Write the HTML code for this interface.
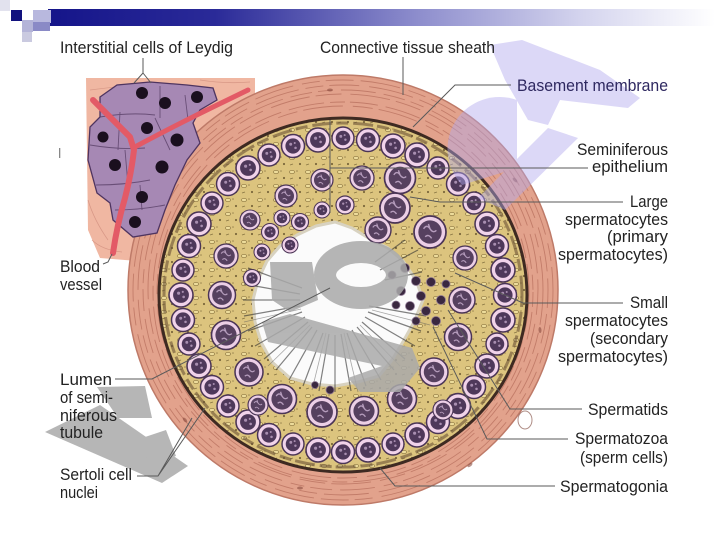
<!DOCTYPE html>
<html><head><meta charset="utf-8"><style>
html,body{margin:0;padding:0;background:#fff;}
svg{display:block;}
text{font-family:"Liberation Sans",sans-serif;font-size:17px;fill:#222;}
</style></head><body>
<svg width="720" height="540" viewBox="0 0 720 540" xmlns="http://www.w3.org/2000/svg">
<defs>
<linearGradient id="bar" x1="48" y1="0" x2="715" y2="0" gradientUnits="userSpaceOnUse">
<stop offset="0" stop-color="#15158a"/><stop offset="0.25" stop-color="#2a2a98"/><stop offset="0.55" stop-color="#8c8ccc"/><stop offset="0.8" stop-color="#d4d4ee"/><stop offset="1" stop-color="#ffffff"/>
</linearGradient>
<pattern id="yel" width="16" height="14" patternUnits="userSpaceOnUse">
<ellipse cx="4" cy="4" rx="2.6" ry="1.6" fill="#f0e0a0" stroke="#8c7640" stroke-width="0.8"/>
<circle cx="12" cy="10" r="1.1" fill="#6a5830"/><circle cx="9" cy="3" r="0.8" fill="#907c48"/><path d="M2 11 l3 -1" stroke="#7a6838" stroke-width="0.9"/>
</pattern>
<g id="c"><circle r="10" fill="#f1d3ea" stroke="#4b3556" stroke-width="1.3"/><circle r="6.6" fill="#4e385a"/><circle cx="-2" cy="-1.5" r="1.3" fill="#a88eb0"/><circle cx="2.2" cy="1.6" r="1.1" fill="#a88eb0"/><circle cx="1.5" cy="-2.6" r="0.9" fill="#a88eb0"/></g>
<g id="L"><circle r="10" fill="#eccfe6" stroke="#4b3556" stroke-width="1.1"/><circle r="7.3" fill="#56405f"/><path d="M-4 -2 q2 -3 4 0 t4 1 M-3 3 q2 -2 4 1 M-1 -5 l1 3" stroke="#b59cbc" stroke-width="0.9" fill="none"/></g>
</defs>

<!-- header -->
<rect x="0" y="0" width="10" height="11" fill="#e2e2ee"/>
<rect x="48" y="9" width="672" height="17" fill="url(#bar)"/>
<rect x="33" y="10" width="18" height="13" fill="#b8b8de"/>
<rect x="33" y="22" width="17" height="9" fill="#8a8ac6"/>
<rect x="11" y="10" width="11" height="11" fill="#12127e"/>
<rect x="22" y="20" width="11" height="12" fill="#b4b4d8"/>
<rect x="22" y="32" width="10" height="10" fill="#cacae0"/>

<!-- interstitial background -->
<polygon points="86,78 255,78 255,100 150,262 100,258 88,230" fill="#f0b7a2"/>
<g stroke="#cf8c7c" stroke-width="0.8" fill="none" opacity="0.7">
<path d="M90 90 q40 -6 80 -4"/><path d="M92 240 q10 10 30 12"/><path d="M88 200 q6 20 20 40"/><path d="M200 80 q25 4 50 2"/>
</g>

<!-- connective tissue sheath -->
<circle cx="343" cy="290" r="215" fill="#e2a28c" stroke="#be7a68" stroke-width="1.5"/>
<g fill="none" stroke="#b8705e" stroke-width="0.9" opacity="0.75">
<circle cx="343" cy="290" r="210" stroke-dasharray="28 7 40 9 18 6"/>
<circle cx="343" cy="290" r="205" stroke-dasharray="18 6 30 10 45 7"/>
<circle cx="343" cy="290" r="200" stroke-dasharray="35 8 22 6 14 9"/>
<circle cx="343" cy="289" r="195" stroke-dasharray="26 9 40 6"/>
<circle cx="343" cy="292" r="190" stroke-dasharray="15 5 28 8 36 6"/>
<circle cx="343" cy="292" r="186" stroke-dasharray="40 10 20 6"/>
</g>
<g fill="#8a4c40" opacity="0.6">
<ellipse cx="205" cy="205" rx="3" ry="1.5" transform="rotate(-45 205 205)"/><ellipse cx="168" cy="300" rx="3" ry="1.5" transform="rotate(-80 168 300)"/>
<ellipse cx="185" cy="420" rx="3" ry="1.5" transform="rotate(50 185 420)"/><ellipse cx="300" cy="488" rx="3" ry="1.5"/>
<ellipse cx="470" cy="465" rx="3" ry="1.5" transform="rotate(-40 470 465)"/><ellipse cx="540" cy="330" rx="3" ry="1.5" transform="rotate(85 540 330)"/>
<ellipse cx="515" cy="180" rx="3" ry="1.5" transform="rotate(45 515 180)"/><ellipse cx="330" cy="90" rx="3" ry="1.5"/>
<ellipse cx="525" cy="420" rx="7" ry="9" fill="none" stroke="#7a4236" stroke-width="1"/>
</g>

<!-- yellow epithelium -->
<ellipse cx="343" cy="295" rx="183" ry="176" fill="#dcc47e"/>
<ellipse cx="343" cy="295" rx="183" ry="176" fill="url(#yel)" opacity="0.85"/>
<ellipse cx="343" cy="295" rx="179" ry="172" fill="none" stroke="#6a5236" stroke-width="3" stroke-dasharray="12 5 20 4" opacity="0.6"/>
<ellipse cx="343" cy="295" rx="184" ry="177" fill="none" stroke="#3e2a22" stroke-width="3"/>

<!-- lumen -->
<polygon points="423,300 414,322 404,340 392,360 379,376 358,382 335,386 312,384 290,378 272,362 261,342 255,322 253,300 258,280 267,261 280,246 297,235 316,226 335,222 352,228 370,239 388,248 403,261 416,280" fill="#fbfbfb" stroke="#d8d2c0" stroke-width="3" stroke-linejoin="round"/>
<g stroke="#303030" stroke-width="1.2" opacity="0.6" fill="none">
<path d="M369 306 L426 316"/><path d="M368 312 L421 331"/><path d="M365 317 L415 346"/><path d="M362 322 L405 359"/><path d="M357 327 L394 370"/><path d="M352 330 L381 380"/><path d="M347 333 L366 386"/><path d="M341 334 L351 391"/><path d="M335 335 L335 392"/><path d="M329 334 L319 391"/><path d="M323 333 L303 386"/><path d="M317 330 L289 380"/><path d="M312 327 L276 370"/><path d="M308 322 L264 359"/><path d="M305 317 L255 346"/><path d="M302 312 L248 331"/><path d="M300 306 L244 316"/><path d="M300 300 L243 300"/><path d="M300 294 L244 284"/><path d="M302 288 L248 268"/>
<path d="M380 270 L418 250"/><path d="M375 262 L405 240"/><path d="M385 280 L422 272"/>
</g>
<g stroke="#555" stroke-width="0.8" opacity="0.5" fill="none">
<path d="M372 310 L430 325"/><path d="M360 325 L400 366"/><path d="M344 333 L358 392"/><path d="M326 333 L312 390"/><path d="M310 325 L268 366"/><path d="M301 309 L244 322"/>
</g>

<!-- cells ring 1 -->
<g>
<use href="#c" transform="translate(505 295) scale(1.15)"/><use href="#c" transform="translate(503 320) scale(1.2)"/><use href="#c" transform="translate(497 344) scale(1.1)"/><use href="#c" transform="translate(487 366) scale(1.2)"/><use href="#c" transform="translate(474 387) scale(1.15)"/><use href="#c" transform="translate(458 406) scale(1.25)"/><use href="#c" transform="translate(438 422) scale(1.15)"/><use href="#c" transform="translate(417 435) scale(1.2)"/><use href="#c" transform="translate(393 444) scale(1.1)"/><use href="#c" transform="translate(368 450) scale(1.2)"/>
<use href="#c" transform="translate(343 452) scale(1.15)"/><use href="#c" transform="translate(318 450) scale(1.2)"/><use href="#c" transform="translate(293 444) scale(1.1)"/><use href="#c" transform="translate(269 435) scale(1.15)"/><use href="#c" transform="translate(248 422) scale(1.2)"/><use href="#c" transform="translate(228 406) scale(1.1)"/><use href="#c" transform="translate(212 387) scale(1.15)"/><use href="#c" transform="translate(199 366) scale(1.2)"/><use href="#c" transform="translate(189 344) scale(1.1)"/><use href="#c" transform="translate(183 320) scale(1.15)"/>
<use href="#c" transform="translate(181 295) scale(1.2)"/><use href="#c" transform="translate(183 270) scale(1.1)"/><use href="#c" transform="translate(189 246) scale(1.15)"/><use href="#c" transform="translate(199 224) scale(1.2)"/><use href="#c" transform="translate(212 203) scale(1.1)"/><use href="#c" transform="translate(228 184) scale(1.15)"/><use href="#c" transform="translate(248 168) scale(1.2)"/><use href="#c" transform="translate(269 155) scale(1.1)"/><use href="#c" transform="translate(293 146) scale(1.15)"/><use href="#c" transform="translate(318 140) scale(1.2)"/>
<use href="#c" transform="translate(343 138) scale(1.1)"/><use href="#c" transform="translate(368 140) scale(1.15)"/><use href="#c" transform="translate(393 146) scale(1.2)"/><use href="#c" transform="translate(417 155) scale(1.2)"/><use href="#c" transform="translate(438 168) scale(1.1)"/><use href="#c" transform="translate(458 184) scale(1.15)"/><use href="#c" transform="translate(474 203) scale(1.1)"/><use href="#c" transform="translate(487 224) scale(1.2)"/><use href="#c" transform="translate(497 246) scale(1.15)"/><use href="#c" transform="translate(503 270) scale(1.2)"/>
</g>
<!-- cells ring 2 (large) -->
<g>
<use href="#L" transform="translate(462 300) scale(1.3)"/><use href="#L" transform="translate(458 337) scale(1.35)"/><use href="#L" transform="translate(434 372) scale(1.4)"/><use href="#L" transform="translate(402 399) scale(1.45)"/><use href="#L" transform="translate(364 411) scale(1.45)"/><use href="#L" transform="translate(322 412) scale(1.5)"/><use href="#L" transform="translate(282 399) scale(1.45)"/><use href="#L" transform="translate(249 372) scale(1.4)"/><use href="#L" transform="translate(226 335) scale(1.45)"/>
<use href="#L" transform="translate(222 295) scale(1.35)"/><use href="#L" transform="translate(226 256) scale(1.2)"/><use href="#L" transform="translate(250 220) scale(1.0)"/><use href="#L" transform="translate(286 196) scale(1.1)"/><use href="#L" transform="translate(322 180) scale(1.1)"/><use href="#L" transform="translate(362 178) scale(1.2)"/><use href="#L" transform="translate(400 178) scale(1.55)"/><use href="#L" transform="translate(430 232) scale(1.6)"/><use href="#L" transform="translate(465 258) scale(1.2)"/>
<use href="#L" transform="translate(395 208) scale(1.5)"/><use href="#L" transform="translate(378 230) scale(1.3)"/><use href="#L" transform="translate(258 405) scale(1.0)"/><use href="#L" transform="translate(443 410) scale(1.0)"/>
<use href="#c" transform="translate(270 232) scale(0.85)"/><use href="#c" transform="translate(290 245) scale(0.8)"/><use href="#c" transform="translate(262 252) scale(0.8)"/><use href="#c" transform="translate(300 222) scale(0.85)"/><use href="#c" transform="translate(282 218) scale(0.8)"/><use href="#c" transform="translate(345 205) scale(0.9)"/><use href="#c" transform="translate(322 210) scale(0.8)"/><use href="#c" transform="translate(252 278) scale(0.85)"/>
</g>
<!-- spermatids -->
<g fill="#3a2840" stroke="#8a7490" stroke-width="0.8">
<circle cx="405" cy="268" r="4.5"/><circle cx="416" cy="281" r="4.5"/><circle cx="401" cy="291" r="4.5"/><circle cx="421" cy="296" r="4.5"/><circle cx="410" cy="306" r="4.5"/><circle cx="426" cy="311" r="4.5"/><circle cx="396" cy="305" r="4"/><circle cx="431" cy="282" r="4.5"/><circle cx="441" cy="300" r="4.5"/><circle cx="436" cy="321" r="4.5"/><circle cx="416" cy="321" r="4"/><circle cx="446" cy="284" r="4"/><circle cx="392" cy="275" r="4"/><circle cx="330" cy="390" r="4"/><circle cx="315" cy="385" r="3.5"/>
</g>

<!-- grey watermark S -->
<g fill="#a9a9a9" opacity="0.85">
<ellipse cx="361" cy="275" rx="36" ry="23" fill="none" stroke="#a9a9a9" stroke-width="22"/>
<polygon points="270,262 312,262 318,300 290,312 272,300"/>
<polygon points="262,322 290,314 412,348 420,368 400,392 360,392 348,378 382,366 268,342"/>
</g>
<!-- grey watermark H bottom-left -->
<g fill="#b6b6b6">
<polygon points="45,432 100,405 188,466 162,483"/>
<polygon points="97,387 145,386 152,418 118,418"/>
<polygon points="136,440 166,430 176,456 150,463"/>
</g>

<!-- lavender watermark top-right -->
<g fill="#b2a8ee" opacity="0.45">
<polygon points="490,45 522,40 600,70 640,98 628,108 560,100 548,125 528,120 505,80"/>
<path d="M517 100 L517 168 L462 185 A52 52 0 0 1 517 100 Z"/>
<polygon points="478,198 548,128 578,138 505,210"/>
</g>

<!-- Leydig cells -->
<polygon points="100,97 117,85 150,82 187,85 213,88 217,100 200,110 193,123 200,143 187,160 175,185 165,210 157,233 133,237 113,220 110,203 97,193 88,160 90,127 100,117" fill="#a688b4" stroke="#4e3460" stroke-width="1.3"/>
<g stroke="#5a4068" stroke-width="0.9" fill="none" opacity="0.8">
<path d="M100 117 Q130 112 155 115"/><path d="M160 86 L160 118"/><path d="M120 112 L118 150"/><path d="M90 145 Q120 150 145 148"/><path d="M155 118 L170 150"/><path d="M96 185 Q125 185 150 180"/><path d="M125 150 L128 185"/><path d="M115 210 Q140 210 165 205"/><path d="M140 185 L142 210"/><path d="M185 95 L188 120"/>
</g>
<g fill="#1a0f1e">
<circle cx="142" cy="93" r="6"/><circle cx="165" cy="103" r="6"/><circle cx="197" cy="97" r="6"/><circle cx="103" cy="137" r="5.5"/><circle cx="147" cy="128" r="6"/><circle cx="177" cy="140" r="6.5"/><circle cx="115" cy="165" r="6"/><circle cx="162" cy="167" r="6.5"/><circle cx="142" cy="197" r="6"/><circle cx="135" cy="222" r="6"/>
</g>
<!-- blood vessel -->
<g fill="none" stroke="#e35a66" stroke-linecap="round" stroke-linejoin="round">
<path d="M93 100 L130 137 L134 150 Q131 175 125 198 Q117 225 113 253" stroke-width="6"/>
<path d="M133 148 Q170 128 213 107 L248 90" stroke-width="5"/>
</g>
<rect x="59" y="148" width="1.3" height="10" fill="#888"/>

<!-- leader lines -->
<g stroke="#5a5a5a" stroke-width="1" fill="none">
<path d="M143 58 L143 73 L134 83 M143 73 L151 83"/>
<path d="M403 57 L403 95"/>
<path d="M511 85 L455 85 L413 127"/>
<path d="M588 168 L330 168 M330 120 L330 213"/>
<path d="M623 202 L440 202 L410 197"/>
<path d="M623 303 L523 303 L455 273"/>
<path d="M582 409 L510 409 L448 310"/>
<path d="M568 439 L487 439 L433 327"/>
<path d="M555 486 L395 486 L380 468"/>
<path d="M103 264 L108 262 L112 254"/>
<path d="M115 379 L152 379 L330 288"/>
<path d="M137 476 L158 476 L205 408 M158 476 L192 418"/>
</g>

<!-- labels -->
<text x="60" y="53" textLength="173" lengthAdjust="spacingAndGlyphs">Interstitial cells of Leydig</text>
<text x="320" y="53" textLength="175" lengthAdjust="spacingAndGlyphs">Connective tissue sheath</text>
<text x="517" y="91" textLength="151" lengthAdjust="spacingAndGlyphs" style="fill:#2e2860">Basement membrane</text>
<text x="577" y="155" textLength="91" lengthAdjust="spacingAndGlyphs">Seminiferous</text>
<text x="592" y="172" textLength="76" lengthAdjust="spacingAndGlyphs">epithelium</text>
<text x="630" y="207" textLength="38" lengthAdjust="spacingAndGlyphs">Large</text>
<text x="565" y="225" textLength="103" lengthAdjust="spacingAndGlyphs">spermatocytes</text>
<text x="607" y="242" textLength="61" lengthAdjust="spacingAndGlyphs">(primary</text>
<text x="558" y="260" textLength="110" lengthAdjust="spacingAndGlyphs">spermatocytes)</text>
<text x="630" y="308" textLength="38" lengthAdjust="spacingAndGlyphs">Small</text>
<text x="565" y="326" textLength="103" lengthAdjust="spacingAndGlyphs">spermatocytes</text>
<text x="590" y="344" textLength="78" lengthAdjust="spacingAndGlyphs">(secondary</text>
<text x="558" y="362" textLength="110" lengthAdjust="spacingAndGlyphs">spermatocytes)</text>
<text x="588" y="415" textLength="80" lengthAdjust="spacingAndGlyphs">Spermatids</text>
<text x="575" y="444" textLength="93" lengthAdjust="spacingAndGlyphs">Spermatozoa</text>
<text x="580" y="463" textLength="88" lengthAdjust="spacingAndGlyphs">(sperm cells)</text>
<text x="560" y="492" textLength="108" lengthAdjust="spacingAndGlyphs">Spermatogonia</text>
<text x="60" y="272" textLength="40" lengthAdjust="spacingAndGlyphs">Blood</text>
<text x="60" y="290" textLength="42" lengthAdjust="spacingAndGlyphs">vessel</text>
<text x="60" y="385" textLength="52" lengthAdjust="spacingAndGlyphs">Lumen</text>
<text x="60" y="403" textLength="53" lengthAdjust="spacingAndGlyphs">of semi-</text>
<text x="60" y="421" textLength="57" lengthAdjust="spacingAndGlyphs">niferous</text>
<text x="60" y="438" textLength="43" lengthAdjust="spacingAndGlyphs">tubule</text>
<text x="60" y="480" textLength="72" lengthAdjust="spacingAndGlyphs">Sertoli cell</text>
<text x="60" y="498" textLength="38" lengthAdjust="spacingAndGlyphs">nuclei</text>
</svg>
</body></html>
